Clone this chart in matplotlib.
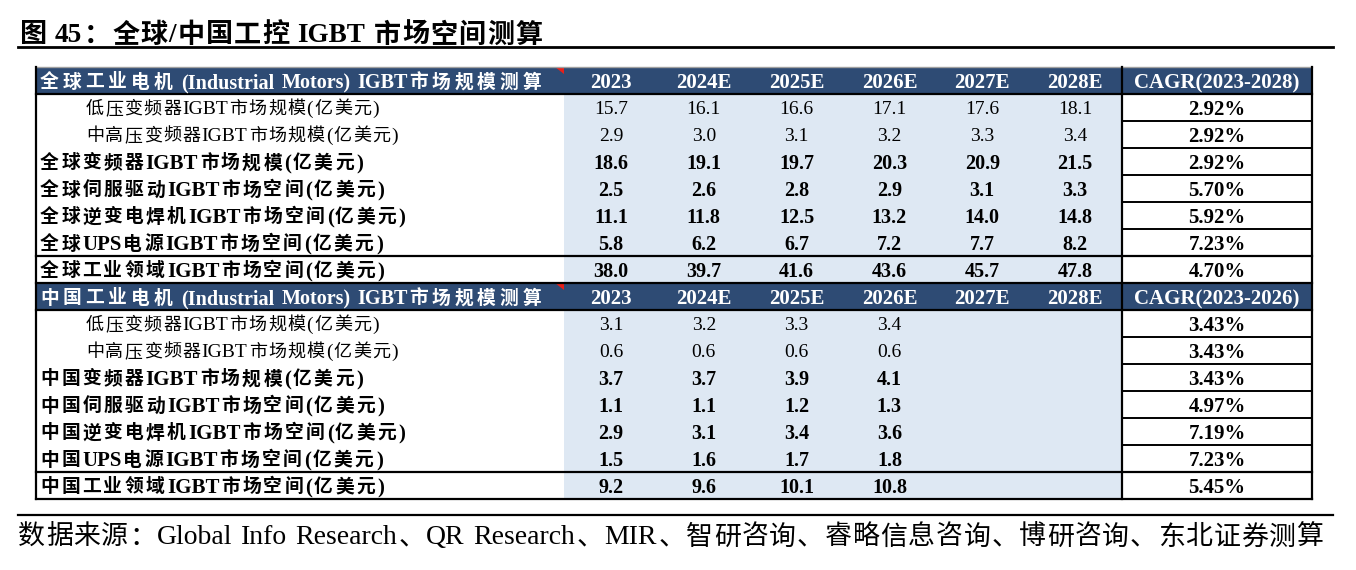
import matplotlib.pyplot as plt
from matplotlib.patches import Rectangle, Polygon

plt.rcParams['font.family'] = ['Liberation Serif', 'Noto Sans CJK SC']

# 数据
title = '图 45：全球/中国工控 IGBT 市场空间测算'
source = '数据来源：Global Info Research、QR Research、MIR、智研咨询、睿略信息咨询、博研咨询、东北证券测算'

years = ['2023', '2024E', '2025E', '2026E', '2027E', '2028E']

global_header = '全球工业电机 (Industrial Motors) IGBT市场规模测算'
global_cagr_title = 'CAGR(2023-2028)'
global_labels = ['低压变频器IGBT市场规模(亿美元)', '中高压变频器IGBT市场规模(亿美元)',
                 '全球变频器IGBT市场规模(亿美元)', '全球伺服驱动IGBT市场空间(亿美元)',
                 '全球逆变电焊机IGBT市场空间(亿美元)', '全球UPS电源IGBT市场空间(亿美元)',
                 '全球工业领域IGBT市场空间(亿美元)']
global_values = [[15.7, 16.1, 16.6, 17.1, 17.6, 18.1],
                 [2.9, 3.0, 3.1, 3.2, 3.3, 3.4],
                 [18.6, 19.1, 19.7, 20.3, 20.9, 21.5],
                 [2.5, 2.6, 2.8, 2.9, 3.1, 3.3],
                 [11.1, 11.8, 12.5, 13.2, 14.0, 14.8],
                 [5.8, 6.2, 6.7, 7.2, 7.7, 8.2],
                 [38.0, 39.7, 41.6, 43.6, 45.7, 47.8]]
global_cagr = ['2.92%', '2.92%', '2.92%', '5.70%', '5.92%', '7.23%', '4.70%']

china_header = '中国工业电机 (Industrial Motors) IGBT市场规模测算'
china_cagr_title = 'CAGR(2023-2026)'
china_labels = ['低压变频器IGBT市场规模(亿美元)', '中高压变频器IGBT市场规模(亿美元)',
                '中国变频器IGBT市场规模(亿美元)', '中国伺服驱动IGBT市场空间(亿美元)',
                '中国逆变电焊机IGBT市场空间(亿美元)', '中国UPS电源IGBT市场空间(亿美元)',
                '中国工业领域IGBT市场空间(亿美元)']
china_values = [[3.1, 3.2, 3.3, 3.4],
                [0.6, 0.6, 0.6, 0.6],
                [3.7, 3.7, 3.9, 4.1],
                [1.1, 1.1, 1.2, 1.3],
                [2.9, 3.1, 3.4, 3.6],
                [1.5, 1.6, 1.7, 1.8],
                [9.2, 9.6, 10.1, 10.8]]
china_cagr = ['3.43%', '3.43%', '3.43%', '4.97%', '7.19%', '7.23%', '5.45%']

# 样式
dark = '#2E4B74'
light = '#DEE8F3'
W, H = 1356, 570
x_left, x_data, x_cagr, x_right = 36, 564, 1122, 1312
y_top, row_h = 67, 27
col_c = [x_data + 47 + i * 92.8 for i in range(6)]
cagr_c = (x_cagr + x_right) / 2

fig = plt.figure(figsize=(W / 100, H / 100), dpi=100)
ax = fig.add_axes([0, 0, 1, 1])
ax.set_xlim(0, W)
ax.set_ylim(H, 0)
ax.axis('off')
renderer = fig.canvas.get_renderer()


def is_cjk(ch):
    return ord(ch) >= 0x2E80


def spaced(x, y, s, size, track, latin_size=None, weight='normal', color='black'):
    # 逐字绘制中文并加字距，英文按整段绘制
    latin_size = latin_size or size
    em = size / 72 * 100
    run = ''
    for ch in s + '\0':
        if ch != '\0' and not is_cjk(ch) and ch != ' ':
            run += ch
            continue
        if run:
            t = ax.text(x, y, run, fontsize=latin_size, fontweight=weight, color=color,
                        ha='left', va='center_baseline')
            x += t.get_window_extent(renderer).width + 1.5
            run = ''
        if ch == '\0':
            break
        if ch == ' ':
            x += latin_size / 72 * 100 * 0.25
        else:
            ax.text(x, y, ch, fontsize=size, fontweight=weight, color=color,
                    ha='left', va='center_baseline')
            x += em + track


# 标题
spaced(20, 33, title, 19.5, 1.2, weight='bold')
ax.plot([18, 1333], [47, 47], color='black', lw=2.0)


def block(y0, header, cagr_title, labels, values, cagr):
    # 表头
    ax.add_patch(Rectangle((x_left, y0), x_right - x_left, row_h, color=dark, lw=0))
    ax.add_patch(Polygon([[x_data - 9, y0], [x_data, y0], [x_data, y0 + 7]], color='#E8201A', lw=0))
    spaced(x_left + 4, y0 + row_h / 2, header, 13.5, 4.0, latin_size=14.5,
           weight='bold', color='white')
    for c, yr in zip(col_c, years):
        ax.text(c, y0 + row_h / 2, yr, fontsize=15, fontweight='bold', color='white',
                ha='center', va='center_baseline')
    ax.text(cagr_c, y0 + row_h / 2, cagr_title, fontsize=15, fontweight='bold', color='white',
            ha='center', va='center_baseline')
    # 数据区
    n = len(labels)
    ax.add_patch(Rectangle((x_data, y0 + row_h), x_cagr - x_data, n * row_h, color=light, lw=0))
    for i, (lab, vals, cg) in enumerate(zip(labels, values, cagr)):
        yc = y0 + row_h * (i + 1.5)
        bold = i >= 2
        w = 'bold' if bold else 'normal'
        if bold:
            spaced(x_left + 4, yc, lab, 13.5, 2.4, latin_size=15, weight=w)
        else:
            spaced(x_left + 50, yc, lab, 13, 1.2, latin_size=14, weight=w)
        for c, v in zip(col_c, vals):
            ax.text(c, yc, f'{v:.1f}', fontsize=14.5 if bold else 14, fontweight=w,
                    ha='center', va='center_baseline')
        ax.text(cagr_c, yc, cg, fontsize=15, fontweight='bold', ha='center', va='center_baseline')
        ax.plot([x_cagr, x_right], [y0 + row_h * (i + 1)] * 2, color='black', lw=1.4)
    # 粗线
    ax.plot([x_left, x_right], [y0 + row_h] * 2, color='black', lw=1.6)
    ax.plot([x_left, x_right], [y0 + row_h * n] * 2, color='black', lw=1.6)
    ax.plot([x_left, x_right], [y0 + row_h * (n + 1)] * 2, color='black', lw=1.6)


block(y_top, global_header, global_cagr_title, global_labels, global_values, global_cagr)
block(y_top + 8 * row_h, china_header, china_cagr_title, china_labels, china_values, china_cagr)

y_bot = y_top + 16 * row_h
ax.plot([x_left, x_right], [y_top, y_top], color='#A0A0A0', lw=1.0)
for xv in [x_left, x_cagr, x_right]:
    ax.plot([xv, xv], [y_top, y_bot], color='black', lw=1.6)

# 资料来源
ax.plot([18, 1333], [515, 515], color='black', lw=1.6)
spaced(18, 535, source, 19.4, 0.8, latin_size=20)

plt.savefig('out.png', dpi=100)
